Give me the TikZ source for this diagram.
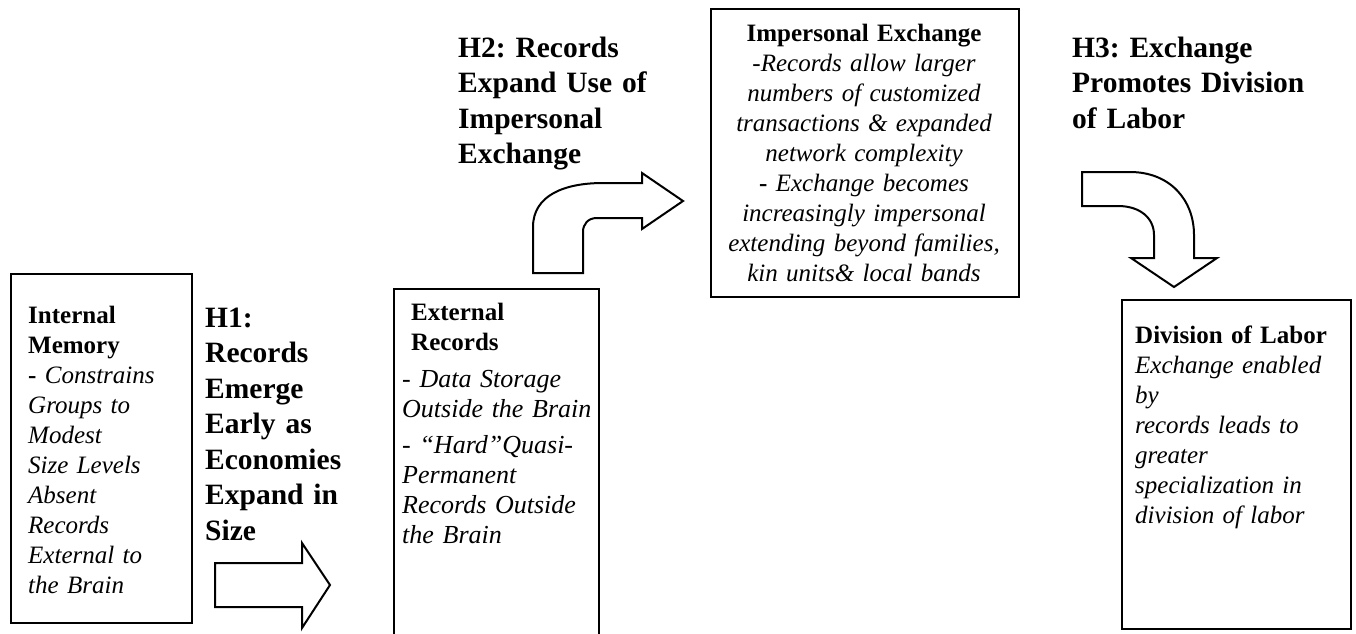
\documentclass[tikz,border=0pt]{standalone}
\usepackage{fontspec}
\setmainfont{Liberation Serif}
\usepackage{tikz}
\usetikzlibrary{positioning}
\frenchspacing

\begin{document}
\begin{tikzpicture}[x=1pt, y=-1pt,
    box/.style={draw, line width=2pt, inner sep=0pt, anchor=north west},
    body/.style={inner sep=0pt, anchor=base west, align=left,
      font=\fontsize{25}{30}\selectfont\itshape},
    hlabel/.style={inner sep=0pt, anchor=base west, align=left,
      font=\fontsize{29.5}{35.5}\selectfont\bfseries},
    blockarrow/.style={draw, line width=2pt, fill=white, line join=miter}]
       \useasboundingbox (0,0) rectangle (1356,633);

       \node[box, minimum width=181pt, minimum height=349pt] (intmem) at (10,273) {};
       \node[box, minimum width=205pt, minimum height=346pt] (extrec) at (393,288) {};
       \node[box, minimum width=308pt, minimum height=288pt] (impex) at (710,8) {};
       \node[box, minimum width=229pt, minimum height=329pt] (divlab) at (1121,299) {};

       \node[body, text width=170pt] (intmemtxt) at (28,323)
         {\textbf{\upshape Internal}\\ \textbf{\upshape Memory}\\ \textbf{\upshape -} Constrains\\
          Groups to\\ Modest\\ Size Levels\\ Absent\\ Records\\ External to\\ the Brain};
       \node[hlabel, text width=150pt] (hone) at (205,327)
         {H1:\\ Records\\ Emerge\\ Early as\\ Economies\\ Expand in\\ Size};
       \node[body, text width=190pt] (extrechd) at (411,320)
         {\textbf{\upshape External}\\ \textbf{\upshape Records}};
       \node[body, text width=194pt, font=\fontsize{26}{30}\selectfont\itshape] (extrectxt) at (402,387)
         {- Data Storage\\ Outside the Brain\\[6pt]
          - “Hard”Quasi-\\ Permanent\\ Records Outside\\ the Brain};
       \node[hlabel, text width=240pt] (htwo) at (458,57)
         {H2: Records\\ Expand Use of\\ Impersonal\\ Exchange};
       \node[body, anchor=base, text width=300pt, align=center] (impextxt) at (864,41)
         {\textbf{\upshape Impersonal Exchange}\\ -Records allow larger\\ numbers of customized\\
          transactions \& expanded\\ network complexity\\ \textbf{\upshape -} Exchange becomes\\
          increasingly impersonal\\ extending beyond families,\\ kin units\& local bands};
       \node[hlabel, text width=270pt] (hthree) at (1072,57)
         {H3: Exchange\\ Promotes Division\\ of Labor};
       \node[body, text width=210pt] (divlabtxt) at (1135,343)
         {\textbf{\upshape Division of Labor}\\ Exchange enabled\\ by\\ records leads to\\ greater\\
          specialization in\\ division of labor};

       \draw[blockarrow] (215,563) -- (302,563) -- (302,543) -- (330,585) -- (302,628)
         -- (302,607) -- (215,607) -- cycle;
       \draw[blockarrow] (533,273) -- (533,227) .. controls (533,195) and (565,183) .. (603,183)
         -- (642,183) -- (642,173) -- (683,201) -- (642,229) -- (642,218) -- (597,218)
         .. controls (588,218) and (583,224) .. (583,232) -- (583,273) -- cycle;
       \draw[blockarrow] (1082,172) -- (1130,172) .. controls (1170,172) and (1194,200) .. (1194,235)
         -- (1194,258) -- (1217,258) -- (1174,287) -- (1131,258) -- (1154,258) -- (1154,235)
         .. controls (1154,218) and (1140,206) .. (1118,206) -- (1082,206) -- cycle;
    \end{tikzpicture}
\end{document}
